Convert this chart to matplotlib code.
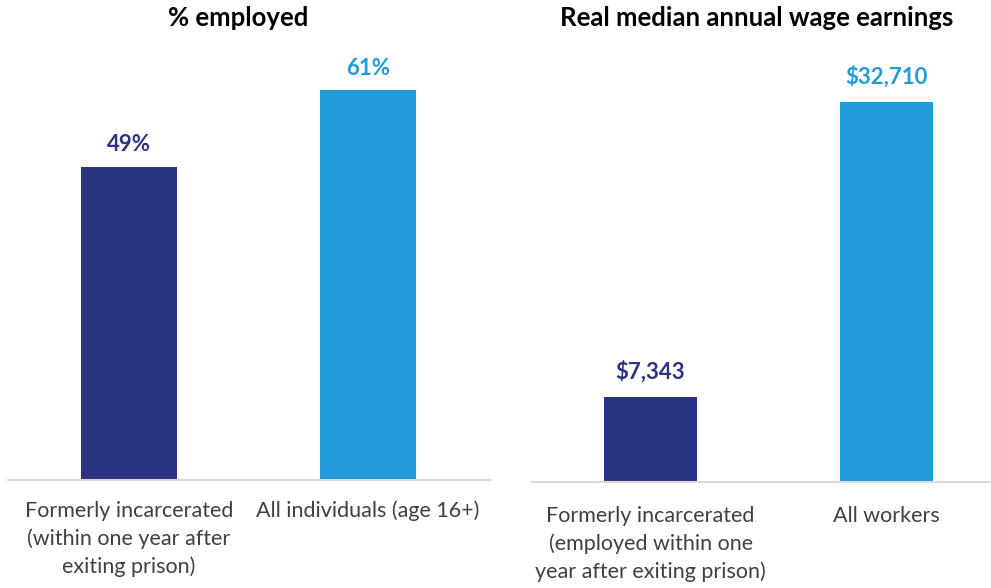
import matplotlib
matplotlib.use('Agg')
import matplotlib.pyplot as plt

plt.rcParams['font.family'] = ['Lato', 'DejaVu Sans']

# employment share, percent
emp_labels = ['Formerly incarcerated\n(within one year after\nexiting prison)',
              'All individuals (age 16+)']
emp_values = [49, 61]

# real median annual wage earnings, dollars
wage_labels = ['Formerly incarcerated\n(employed within one\nyear after exiting prison)',
               'All workers']
wage_values = [7343, 32710]

colors = ['#2b3383', '#219cd8']
text_gray = '#404040'
base_gray = '#d9d9d9'

fig = plt.figure(figsize=(9.91, 5.88), dpi=100)
W, H = 991, 588

def add_panel(left_px, right_px, base_px, top_px):
    return fig.add_axes([left_px / W, 1 - base_px / H,
                         (right_px - left_px) / W, (base_px - top_px) / H])

ax0 = add_panel(8, 490, 480, 40)
ax1 = add_panel(532, 990, 482, 40)

def style(ax, labels, pad):
    for s in ['left', 'right', 'top']:
        ax.spines[s].set_visible(False)
    ax.spines['bottom'].set_color(base_gray)
    ax.spines['bottom'].set_linewidth(1.5)
    ax.set_yticks([])
    ax.set_xticks(range(len(labels)))
    ax.set_xticklabels(labels, fontsize=15.5, color=text_gray, linespacing=1.45,
                       va='top')
    ax.tick_params(axis='x', length=0, pad=pad)

# left panel
ax0.bar(range(2), emp_values, width=0.40, color=colors)
ax0.set_xlim(-0.506, 1.51)
ax0.set_ylim(0, 68.9)
style(ax0, emp_labels, 15)
for i, v in enumerate(emp_values):
    ax0.annotate(f'{v}%', (i, v), xytext=(0, 16), textcoords='offset points',
                 ha='center', va='center', fontsize=16, fontweight='bold',
                 color=colors[i])

# right panel
ax1.bar(range(2), wage_values, width=0.395, color=colors)
ax1.set_xlim(-0.503, 1.44)
ax1.set_ylim(0, 38000)
style(ax1, wage_labels, 17)
for i, v in enumerate(wage_values):
    ax1.annotate(f'${v:,}', (i, v), xytext=(0, 18), textcoords='offset points',
                 ha='center', va='center', fontsize=16, fontweight='bold',
                 color=colors[i])

fig.text(238 / W, 1 - 18 / H, '% employed', ha='center', va='center',
         fontsize=18.5, fontweight='bold', color='black')
fig.text(757 / W, 1 - 18 / H, 'Real median annual wage earnings', ha='center',
         va='center', fontsize=18.5, fontweight='bold', color='black')

fig.savefig('out.png', dpi=100, facecolor='white')
